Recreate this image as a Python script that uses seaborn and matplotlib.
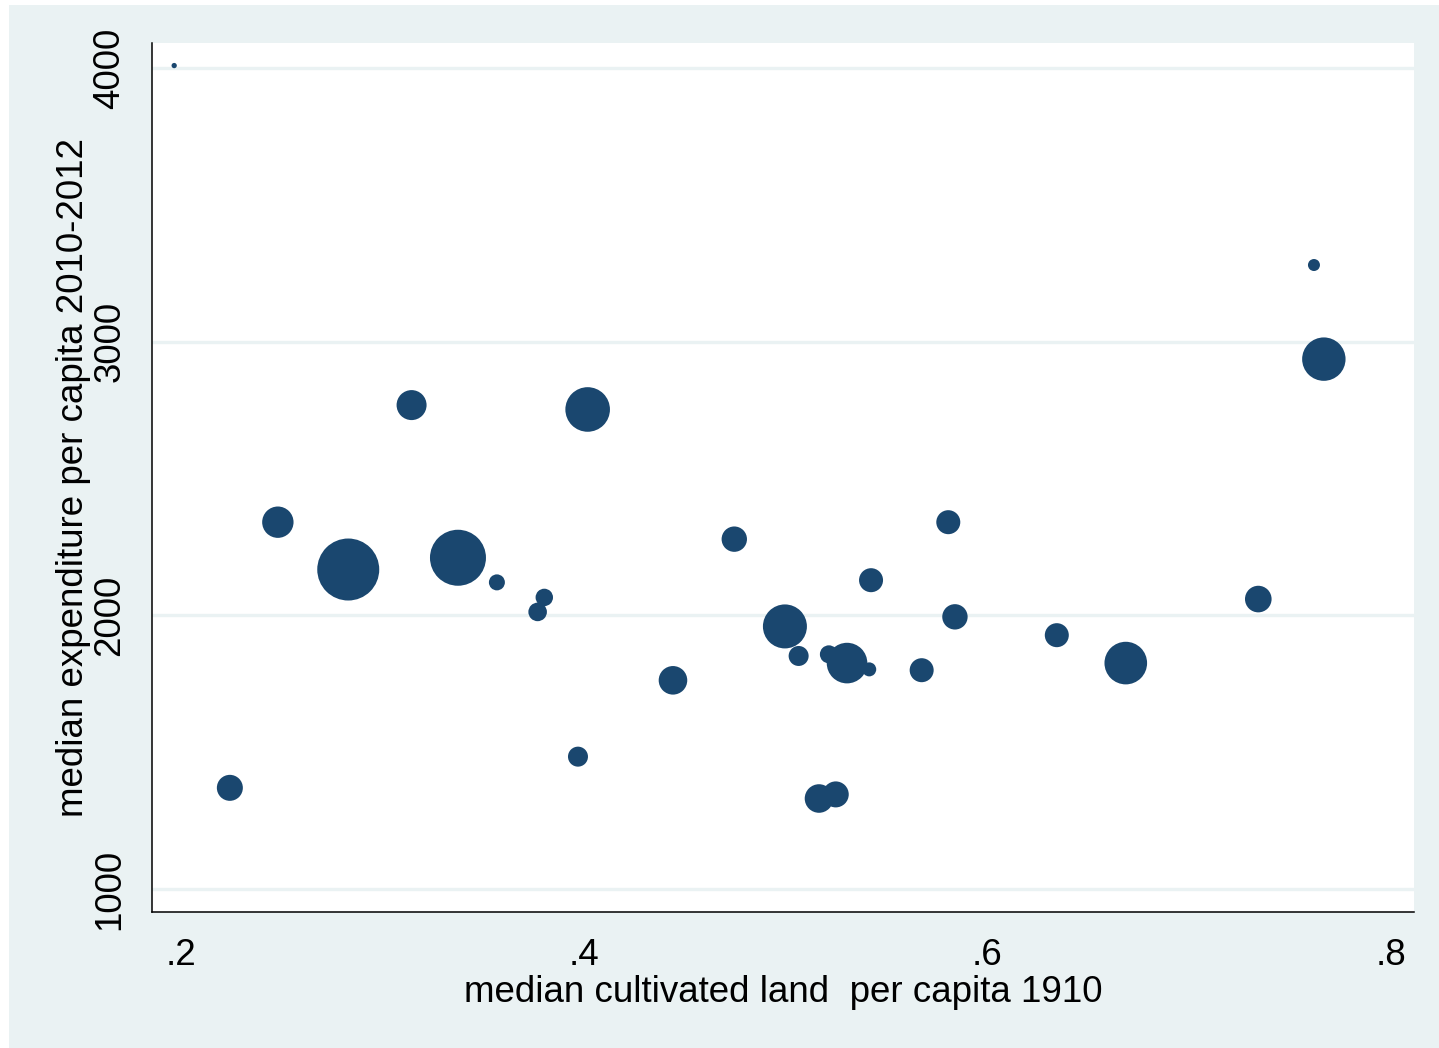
import matplotlib
matplotlib.use("Agg")
import matplotlib.pyplot as plt
from matplotlib.patches import Rectangle
import pandas as pd
import seaborn as sns

# Median cultivated land per capita (1910) and median expenditure per capita (2010-2012)
land = [0.1968, 0.2244, 0.2482, 0.2831, 0.3145, 0.3375, 0.3568, 0.3803, 0.3770,
        0.3970, 0.4018, 0.4441, 0.4745, 0.4996, 0.5064, 0.5214, 0.5304, 0.5414,
        0.5165, 0.5248, 0.5423, 0.5674, 0.5806, 0.5839, 0.6344, 0.6686, 0.7343,
        0.7619, 0.7668]
expenditure = [4010, 1370, 2341, 2168, 2769, 2211, 2121, 2066, 2013,
               1484, 2753, 1763, 2279, 1960, 1852, 1858, 1826, 1803,
               1331, 1346, 2129, 1800, 2341, 1995, 1928, 1826, 2060,
               3281, 2937]
# Analytic weights (marker area is proportional to weight)
weight = [7, 169, 246, 961, 225, 784, 64, 76, 86,
          100, 497, 204, 161, 484, 100, 81, 412, 49,
          204, 169, 144, 144, 144, 161, 144, 454, 177,
          36, 471]

x_ticks = [0.2, 0.4, 0.6, 0.8]
x_tick_labels = [".2", ".4", ".6", ".8"]
y_ticks = [1000, 2000, 3000, 4000]
y_tick_labels = ["1000", "2000", "3000", "4000"]

NAVY = "#1a476f"
BG = "#EAF2F3"

sns.set_style("white")
plt.rcParams["font.family"] = ["Liberation Sans", "DejaVu Sans"]

W, H, DPI = 1439, 1048, 100
fig = plt.figure(figsize=(W / DPI, H / DPI), dpi=DPI, facecolor="white")
fig.patches.append(Rectangle((9 / W, 0), 1 - 9 / W, 1 - 5 / H,
                             transform=fig.transFigure, facecolor=BG,
                             edgecolor="none", zorder=-10))

left, right, top, bottom = 152, 1414, 43, 911.5
ax = fig.add_axes([left / W, (H - bottom) / H, (right - left) / W, (bottom - top) / H])
ax.set_zorder(1)
ax.set_facecolor("white")

df = pd.DataFrame({"land": land, "expenditure": expenditure, "weight": weight})

# marker area in points^2 for a weight w: k * w  (radius in px = sqrt(w))
wmin, wmax = min(weight), max(weight)
k = (2 * 72 / DPI) ** 2
sns.scatterplot(data=df, x="land", y="expenditure", size="weight",
                sizes=(k * wmin, k * wmax), size_norm=(wmin, wmax),
                color=NAVY, linewidth=0, legend=False, ax=ax, zorder=3)

ax.set_xlim(0.1858, 0.8115)
ax.set_ylim(918, 4092.5)

ax.set_xticks(x_ticks)
ax.set_xticklabels(x_tick_labels)
ax.set_yticks(y_ticks)
ax.set_yticklabels(y_tick_labels, rotation=90, va="center")

ax.grid(axis="y", color=BG, linewidth=2.4)
ax.grid(axis="x", visible=False)
ax.set_axisbelow(True)

for side in ("top", "right"):
    ax.spines[side].set_visible(False)
for side in ("left", "bottom"):
    ax.spines[side].set_color("black")
    ax.spines[side].set_linewidth(1.1)

ax.tick_params(axis="both", which="major", direction="out", length=10.8,
               width=1.0, color="black", labelsize=26.5, labelcolor="black")
ax.tick_params(axis="x", pad=8)
ax.tick_params(axis="y", pad=7)

ax.set_xlabel("median cultivated land  per capita 1910", fontsize=26.5,
              color="black", labelpad=2)
ax.set_ylabel("median expenditure per capita 2010-2012", fontsize=26.5,
              color="black", labelpad=1)

fig.savefig("out.png", dpi=DPI, facecolor=fig.get_facecolor())
